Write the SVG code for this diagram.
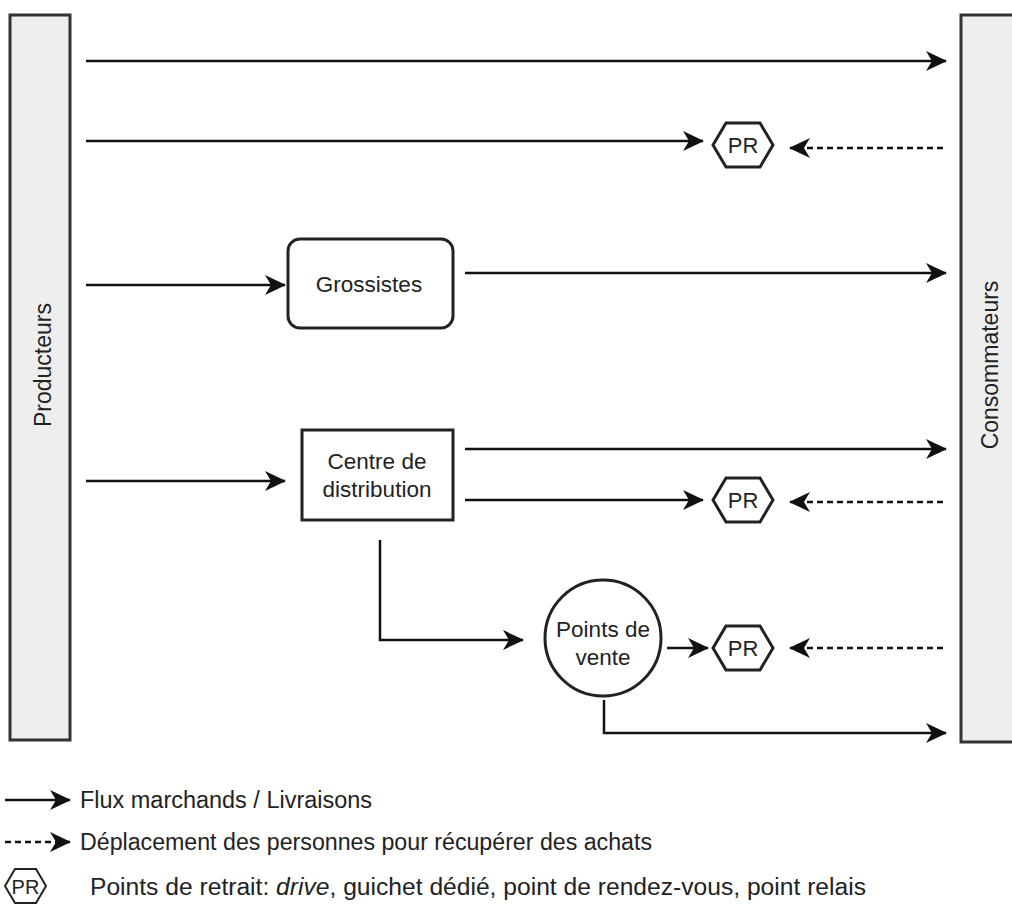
<svg xmlns="http://www.w3.org/2000/svg" width="1012" height="913" viewBox="0 0 1012 913">
  <defs>
    <marker id="arrow" markerUnits="userSpaceOnUse" markerWidth="22" markerHeight="22" refX="20" refY="11" orient="auto" viewBox="0 0 22 22">
      <path d="M0,1 L21,11 L0,21 L6,11 Z" fill="#111"/>
    </marker>
    <polygon id="hex" points="-30,0 -17,-22 17,-22 30,0 17,22 -17,22"/>
  </defs>
  <style>
    .bar { fill: #eeeeee; stroke: #333; stroke-width: 3; }
    .box { fill: #fff; stroke: #222; stroke-width: 3; }
    .hexs { fill: #fff; stroke: #222; stroke-width: 3; }
    .flow { fill: none; stroke: #111; stroke-width: 2.5; marker-end: url(#arrow); }
    .walk { fill: none; stroke: #111; stroke-width: 2.5; stroke-dasharray: 6 4; marker-end: url(#arrow); }
    text { font-family: "Liberation Sans", Arial, sans-serif; fill: #222; }
    .lbl { font-size: 22.5px; text-anchor: middle; }
    .side { font-size: 23px; text-anchor: middle; }
    .pr { font-size: 22px; text-anchor: middle; }
    .leg { font-size: 23px; }
  </style>

  <!-- Producers and consumers bars -->
  <g id="producteurs">
    <rect class="bar" x="10" y="15" width="60" height="725"/>
    <text class="side" transform="translate(51,365) rotate(-90)">Producteurs</text>
  </g>
  <g id="consommateurs">
    <rect class="bar" x="961" y="15" width="60" height="727"/>
    <text class="side" transform="translate(998,365) rotate(-90)">Consommateurs</text>
  </g>

  <!-- Intermediaries -->
  <g id="grossistes">
    <rect class="box" x="288" y="239" width="165" height="89" rx="12"/>
    <text class="lbl" x="369" y="292">Grossistes</text>
  </g>
  <g id="centre-distribution">
    <rect class="box" x="302" y="430" width="151" height="90"/>
    <text class="lbl" x="377" y="469">Centre de</text>
    <text class="lbl" x="377" y="497">distribution</text>
  </g>
  <g id="points-vente">
    <circle class="box" cx="603" cy="638" r="58"/>
    <text class="lbl" x="603" y="637">Points de</text>
    <text class="lbl" x="603" y="665">vente</text>
  </g>

  <!-- Pick-up points -->
  <g id="pr-1">
    <use href="#hex" class="hexs" x="743" y="145"/>
    <text class="pr" x="743" y="153">PR</text>
  </g>
  <g id="pr-2">
    <use href="#hex" class="hexs" x="743" y="500"/>
    <text class="pr" x="743" y="508">PR</text>
  </g>
  <g id="pr-3">
    <use href="#hex" class="hexs" x="743" y="648"/>
    <text class="pr" x="743" y="656">PR</text>
  </g>

  <!-- Flows -->
  <g id="connectors">
    <line class="flow" x1="86" y1="61" x2="946" y2="61"/>
    <line class="flow" x1="86" y1="141" x2="703" y2="141"/>
    <line class="walk" x1="943" y1="148" x2="790" y2="148"/>

    <line class="flow" x1="86" y1="285" x2="285" y2="285"/>
    <line class="flow" x1="465" y1="273" x2="946" y2="273"/>

    <line class="flow" x1="86" y1="481" x2="285" y2="481"/>
    <line class="flow" x1="465" y1="449" x2="946" y2="449"/>
    <line class="flow" x1="465" y1="500" x2="703" y2="500"/>
    <line class="walk" x1="943" y1="502" x2="790" y2="502"/>

    <polyline class="flow" points="380,540 380,640 523,640"/>
    <line class="flow" x1="667" y1="648" x2="708" y2="648"/>
    <line class="walk" x1="943" y1="648" x2="790" y2="648"/>
    <polyline class="flow" points="604,700 604,733 946,733"/>
  </g>

  <!-- Legend -->
  <g id="legend">
    <line class="flow" x1="5" y1="800" x2="70" y2="800"/>
    <text class="leg" x="80" y="808" textLength="292" lengthAdjust="spacingAndGlyphs">Flux marchands / Livraisons</text>
    <line class="walk" x1="5" y1="842" x2="70" y2="842"/>
    <text class="leg" x="80" y="850" textLength="572" lengthAdjust="spacingAndGlyphs">Déplacement des personnes pour récupérer des achats</text>
    <polygon class="hexs" points="5,886 15,869 36,869 46,886 36,903 15,903" style="stroke-width:2"/>
    <text x="25.5" y="894" style="font-size:20px;text-anchor:middle">PR</text>
    <text class="leg" x="90" y="895" textLength="776" lengthAdjust="spacingAndGlyphs">Points de retrait: <tspan font-style="italic">drive</tspan>, guichet dédié, point de rendez-vous, point relais</text>
  </g>
</svg>
